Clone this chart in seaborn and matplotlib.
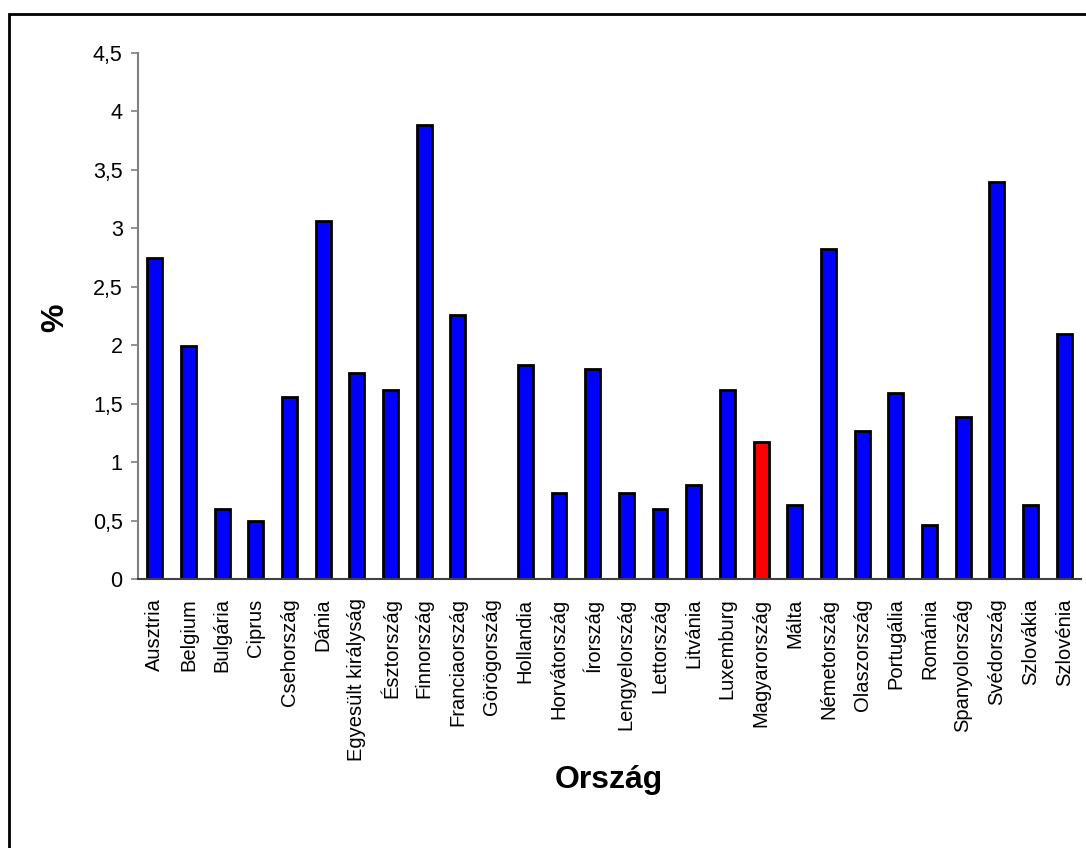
import matplotlib
matplotlib.use("Agg")
import matplotlib.pyplot as plt
import matplotlib.patches as mpatches
import seaborn as sns
import pandas as pd
import numpy as np

countries = [
    "Ausztria", "Belgium", "Bulgária", "Ciprus", "Csehország", "Dánia",
    "Egyesült királyság", "Észtország", "Finnország", "Franciaország",
    "Görögország", "Hollandia", "Horvátország", "Írország", "Lengyelország",
    "Lettország", "Litvánia", "Luxemburg", "Magyarország", "Málta",
    "Németország", "Olaszország", "Portugália", "Románia", "Spanyolország",
    "Svédország", "Szlovákia", "Szlovénia",
]
values = [
    2.75, 1.99, 0.60, 0.50, 1.56, 3.06,
    1.76, 1.62, 3.88, 2.26,
    0.0, 1.83, 0.74, 1.80, 0.74,
    0.60, 0.80, 1.62, 1.17, 0.63,
    2.82, 1.27, 1.59, 0.46, 1.39,
    3.40, 0.63, 2.10,
]
highlight = "Magyarország"
y_ticks = [0, 0.5, 1, 1.5, 2, 2.5, 3, 3.5, 4, 4.5]
y_tick_labels = ["0", "0,5", "1", "1,5", "2", "2,5", "3", "3,5", "4", "4,5"]

df = pd.DataFrame({"Ország": countries, "érték": values})
palette = {c: ("#FF0000" if c == highlight else "#0000FF") for c in countries}

sns.set_style("white")
plt.rcParams["font.family"] = ["Liberation Sans", "DejaVu Sans"]
plt.rcParams["text.color"] = "black"
plt.rcParams["xtick.labelcolor"] = "black"
plt.rcParams["ytick.labelcolor"] = "black"

W, H = 1086, 848
fig = plt.figure(figsize=(W / 100, H / 100), dpi=100)
ax = fig.add_axes([138 / W, 1 - 579 / H, (1081 - 138) / W, (579 - 53) / H])

sns.barplot(data=df, x="Ország", y="érték", hue="Ország", palette=palette,
            order=countries, hue_order=countries, legend=False, width=0.444,
            edgecolor="black", linewidth=2, saturation=1, ax=ax)

ax.set_xlim(-0.5, len(countries) - 0.5)
ax.set_ylim(0, 4.5)
ax.set_yticks(y_ticks)
ax.set_yticklabels(y_tick_labels, fontsize=15.5)
ax.set_xticks(np.arange(len(countries)))
ax.set_xticklabels(countries, rotation=90, fontsize=14.5)
ax.set_xticks(np.arange(len(countries) + 1) - 0.5, minor=True)
ax.tick_params(axis="x", which="major", length=0, pad=14)
ax.tick_params(axis="x", which="minor", length=5, width=1.2, color="#606060", direction="out")
ax.tick_params(axis="y", length=5, width=1.2, color="#808080", direction="out", pad=6, left=True)

for s in ("top", "right"):
    ax.spines[s].set_visible(False)
ax.spines["left"].set_color("#808080")
ax.spines["left"].set_linewidth(1.5)
ax.spines["bottom"].set_color("#404040")
ax.spines["bottom"].set_linewidth(1.5)
ax.set_xlabel("")
ax.set_ylabel("")
ax.grid(False)

fig.text(55 / W, 1 - 318 / H, "%", rotation=90, fontsize=23, fontweight="bold",
         ha="center", va="center", color="black")
fig.text(609 / W, 1 - 780 / H, "Ország", fontsize=23, fontweight="bold",
         ha="center", va="center", color="black")

# outer chart frame (continues past the right and bottom edges)
frame = mpatches.Rectangle((9 / W, -0.05), 1.2, 1 - 14 / H + 0.05,
                           transform=fig.transFigure, fill=False,
                           edgecolor="black", linewidth=2, clip_on=False)
fig.patches.append(frame)

fig.savefig("out.png", dpi=100)
